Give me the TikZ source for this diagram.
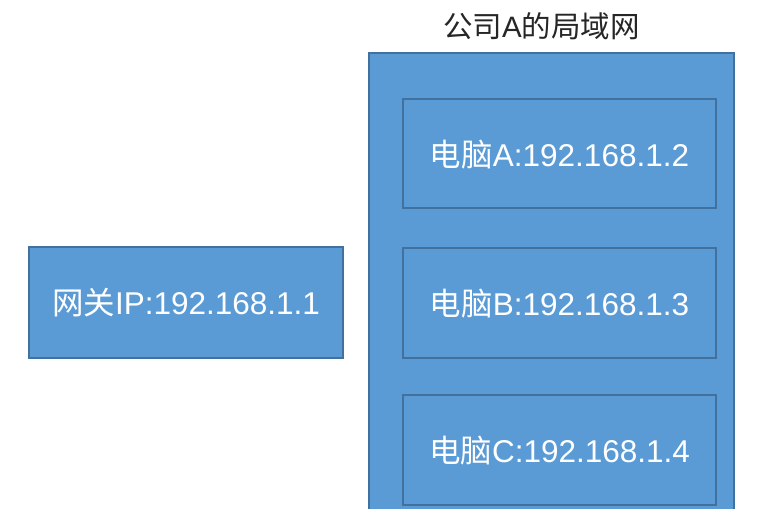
\documentclass[tikz,border=0pt]{standalone}
\usepackage{fontspec}
\setmainfont{Liberation Sans}
\newfontfamily\cjk{Noto Sans CJK SC}
\definecolor{boxfill}{HTML}{5B9BD5}
\definecolor{boxline}{HTML}{41719C}
\definecolor{titletext}{HTML}{262626}
\begin{document}
\begin{tikzpicture}[x=1pt,y=-1pt,
  bluebox/.style={draw=boxline,fill=boxfill,line width=2pt,inner sep=0pt,outer sep=0pt},
  boxtext/.style={text=white,font=\fontsize{31.5}{36}\selectfont,inner sep=0pt}]
\useasboundingbox (0,0) rectangle (759,508);
\clip (0,0) rectangle (759,508);
\fill[white] (0,0) rectangle (759,508);
% outer LAN box
\draw[bluebox] (369,53) rectangle (734,530);
\node[text=titletext,font=\fontsize{29.5}{34}\selectfont,inner sep=0pt] (title) at (541.5,26) {{\cjk 公司}A{\cjk 的局域网}};
% gateway
\draw[bluebox] (29,247) rectangle (343,358);
\node[boxtext] (gw) at (186,302.5) {{\cjk 网关}IP:192.168.1.1};
% computers
\draw[bluebox] (403,99) rectangle (716,208);
\node[boxtext] (pcA) at (559.5,155) {{\cjk 电脑}A:192.168.1.2};
\draw[bluebox] (403,248) rectangle (716,358);
\node[boxtext] (pcB) at (559.5,304) {{\cjk 电脑}B:192.168.1.3};
\draw[bluebox] (403,395) rectangle (716,505);
\node[boxtext] (pcC) at (559.5,451) {{\cjk 电脑}C:192.168.1.4};
\end{tikzpicture}
\end{document}
